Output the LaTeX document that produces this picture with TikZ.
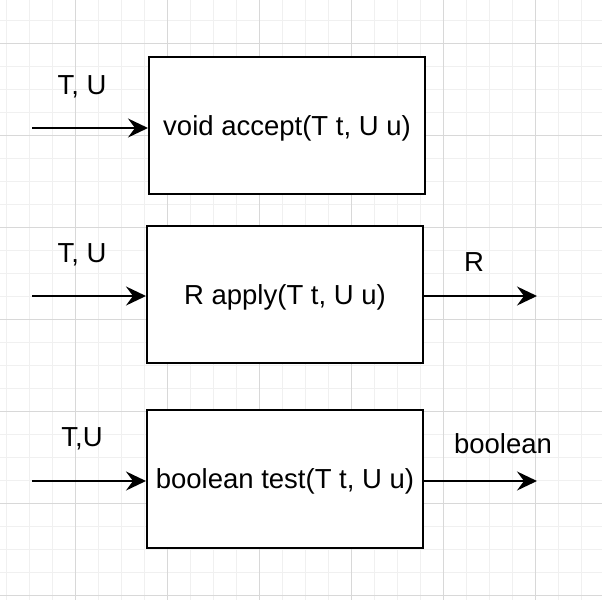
\documentclass[tikz,border=0pt]{standalone}
\usepackage{fontspec}
\setmainfont{Liberation Sans}
\usetikzlibrary{arrows.meta,positioning}
\definecolor{gridminor}{HTML}{F0F0F0}
\definecolor{gridmajor}{HTML}{D8D8D8}
\tikzset{
    %Define standard arrow tip
    >={Stealth[length=20pt,width=19pt,inset=7pt]},
    %Define style for boxes
    fnbox/.style={
           rectangle,
           draw=black, line width=2pt,
           minimum width=276pt,
           minimum height=137pt,
           text depth=0pt,
           font=\fontsize{27.5}{33}\selectfont,
           text centered,
           fill=white,
           },
    lbl/.style={
           inner sep=0pt,
           font=\fontsize{27.5}{33}\selectfont,
           },
    % Define arrow style
    pil/.style={
           ->,
           line width=2pt,},
}
\begin{document}
\begin{tikzpicture}[x=1pt,y=-1pt]
\fill[white] (0,0) rectangle (602,600);
\useasboundingbox (0,0) rectangle (602,600);
% grid
\foreach \g in {6,29,...,604}{\draw[gridminor,line width=1pt] (\g,0) -- (\g,600);}
\foreach \g in {-3,20,...,600}{\draw[gridminor,line width=1pt] (0,\g) -- (602,\g);}
\foreach \g in {75,167,...,604}{\draw[gridmajor,line width=1pt] (\g,0) -- (\g,600);}
\foreach \g in {43,135,...,600}{\draw[gridmajor,line width=1pt] (0,\g) -- (602,\g);}
% boxes
\node[fnbox] (A) at (287,125.5) {void accept(T t, U u)};
\node[fnbox] (B) at (285,294.5) {R apply(T t, U u)};
\node[fnbox, minimum height=138pt] (C) at (285,479) {boolean test(T t, U u)};
% free ends
\coordinate (Ain) at (32,128);
\coordinate (Bin) at (32,296);
\coordinate (Cin) at (32,481);
\coordinate (Bout) at (537,296);
\coordinate (Cout) at (537,481);
% labels
\node[lbl] (Alab) at (82,87) {T, U};
\node[lbl] (Blab) at (82,255) {T, U};
\node[lbl] (Clab) at (82,439) {T,U};
\node[lbl] (Rlab) at (474,262) {R};
\node[lbl] (Olab) at (503,444) {boolean};
\path[pil]
	(Ain) edge (Ain -| A.west)
	(Bin) edge (Bin -| B.west)
	(Cin) edge (Cin -| C.west)
	(Bout -| B.east) edge (Bout)
	(Cout -| C.east) edge (Cout);
\end{tikzpicture}
\end{document}
